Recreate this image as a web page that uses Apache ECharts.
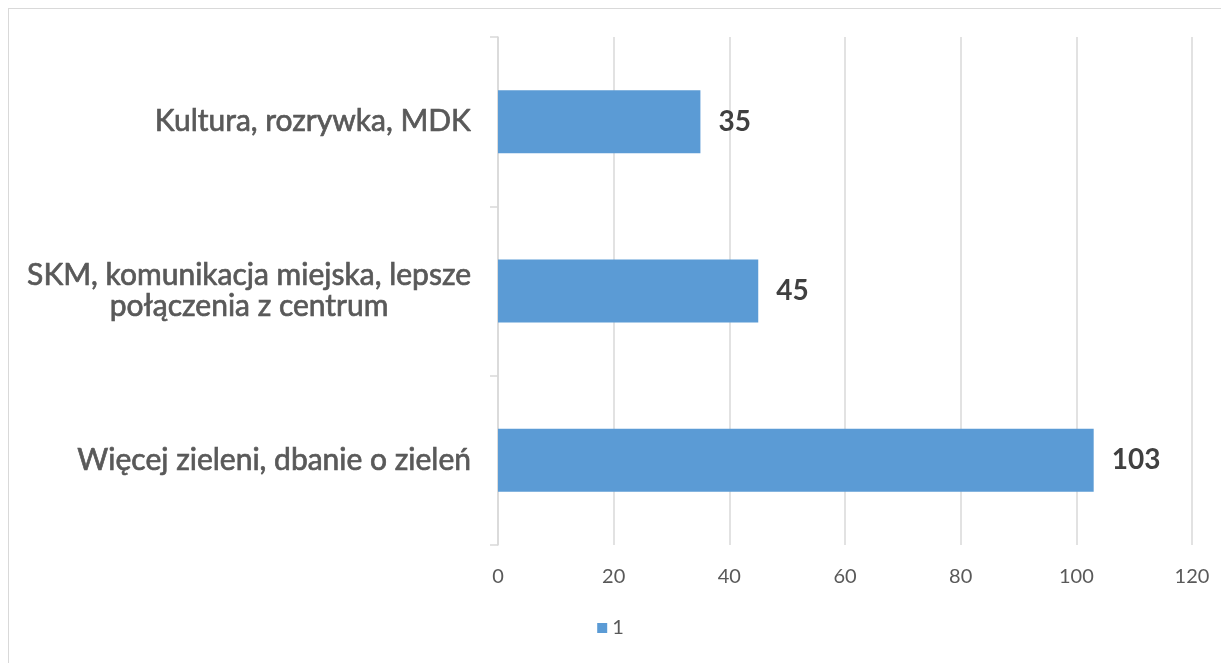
<!DOCTYPE html>
<html>
<head>
<meta charset="utf-8">
<script src="https://cdn.jsdelivr.net/npm/echarts@6/dist/echarts.min.js"></script>
<style>
  html, body { margin: 0; padding: 0; overflow: hidden; background: #fff; }
  #frame { position: absolute; left: 8px; top: 8px; width: 1400px; height: 800px; border: 1px solid #d9d9d9; }
  #chart { position: absolute; left: 0; top: 0; width: 1221px; height: 663px; }
</style>
</head>
<body>
<div id="frame"></div>
<div id="chart"></div>
<script>
  // kategorie od dołu do góry
  const categories = [
    'Więcej zieleni, dbanie o zieleń',
    'SKM, komunikacja miejska, lepsze\npołączenia z centrum',
    'Kultura, rozrywka, MDK',
  ]
  const values = [103, 45, 35]
  const seriesName = '1'

  const chart = echarts.init(document.getElementById('chart'))
  const font = 'Lato, "Open Sans", sans-serif'

  const option = {
    animation: false,
    textStyle: { fontFamily: font },
    grid: { left: 498, right: 29, top: 37, bottom: 118, containLabel: false },
    legend: {
      data: [seriesName],
      bottom: 20,
      left: 'center',
      icon: 'rect',
      itemWidth: 10,
      itemHeight: 10,
      itemGap: 6,
      textStyle: { color: '#595959', fontSize: 20, fontFamily: font },
    },
    xAxis: {
      type: 'value',
      min: 0,
      max: 120,
      interval: 20,
      axisLine: { show: false },
      axisTick: { show: false },
      splitLine: { show: true, lineStyle: { color: '#d9d9d9', width: 1.5 } },
      axisLabel: { color: '#595959', fontSize: 20, margin: 22, fontFamily: font },
    },
    yAxis: {
      type: 'category',
      data: categories,
      axisLine: { show: true, lineStyle: { color: '#d9d9d9', width: 1.5 } },
      axisTick: { show: true, length: 8, lineStyle: { color: '#d9d9d9', width: 1.5 } },
      axisLabel: {
        margin: 27,
        // każda linia wyśrodkowana w bloku wyrównanym do prawej
        formatter: v => v.split('\n').map(l => '{c|' + l + '}').join('\n'),
        rich: {
          c: {
            align: 'center',
            color: '#595959',
            fontSize: 30,
            fontWeight: 'normal',
            lineHeight: 31,
            textBorderColor: '#595959',
            textBorderWidth: 0.7,
            fontFamily: font,
          },
        },
      },
    },
    series: [{
      name: seriesName,
      type: 'bar',
      data: values,
      barWidth: 63,
      itemStyle: { color: '#5b9bd5' },
      label: {
        show: true,
        position: 'right',
        distance: 18,
        color: '#404040',
        fontSize: 28,
        fontWeight: 'bold',
        fontFamily: font,
      },
    }],
  }
  chart.setOption(option)
</script>
</body>
</html>
